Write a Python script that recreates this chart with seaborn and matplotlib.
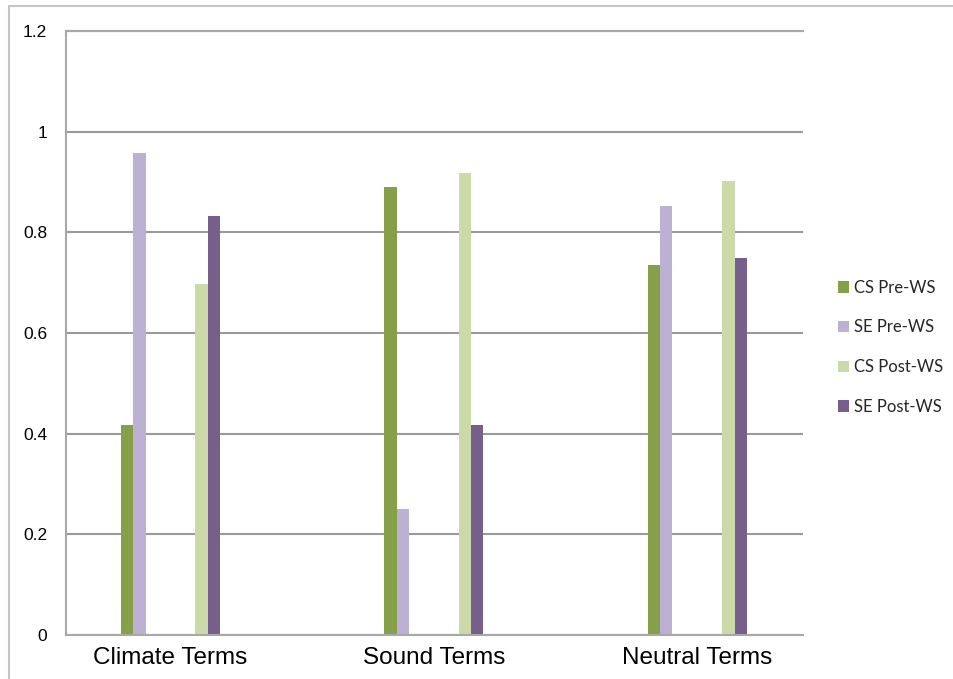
import matplotlib
matplotlib.use("Agg")
import matplotlib.pyplot as plt
from matplotlib.patches import Patch
from matplotlib.lines import Line2D
import pandas as pd
import seaborn as sns

# Category and series data
categories = ["Climate Terms", "Sound Terms", "Neutral Terms"]
series = ["CS Pre-WS", "SE Pre-WS", "CS Post-WS", "SE Post-WS"]
cs_pre = [0.417, 0.89, 0.736]
se_pre = [0.958, 0.25, 0.853]
cs_post = [0.697, 0.917, 0.902]
se_post = [0.833, 0.417, 0.75]
y_ticks = [0, 0.2, 0.4, 0.6, 0.8, 1, 1.2]
y_tick_labels = ["0", "0.2", "0.4", "0.6", "0.8", "1", "1.2"]

colors = {
    "CS Pre-WS": "#86A04A",
    "SE Pre-WS": "#BCB0D3",
    "CS Post-WS": "#CCD9A8",
    "SE Post-WS": "#765F8B",
}

# Long-form table for seaborn
rows = []
for name, vals in zip(series, [cs_pre, se_pre, cs_post, se_post]):
    for cat, v in zip(categories, vals):
        rows.append({"category": cat, "series": name, "value": v})
df = pd.DataFrame(rows)

# Empty slots between the pre and post pairs within each cluster
spacers = ["_s1", "_s2", "_s3", "_s4"]
hue_order = series[:2] + spacers + series[2:]
palette = dict(colors)
palette.update({s: "white" for s in spacers})

sns.set_theme(style="white")
plt.rcParams["font.family"] = ["Liberation Sans", "DejaVu Sans"]

fig = plt.figure(figsize=(9.54, 6.79), dpi=100)
ax = fig.add_axes([66 / 954, 1 - 635 / 679, (802.7 - 66) / 954, (635 - 31) / 679])

sns.barplot(
    data=df, x="category", y="value", hue="series",
    order=categories, hue_order=hue_order, palette=palette,
    width=0.377, dodge=True, saturation=1, legend=False,
    errorbar=None, ax=ax, linewidth=0,
)

ax.set_xlim(-0.396, 2.4)
ax.set_ylim(0, 1.2)
ax.set_yticks(y_ticks)
ax.set_yticklabels(y_tick_labels)
ax.yaxis.grid(True, color="#9a9a9a", linewidth=1.5)
ax.set_axisbelow(True)
ax.set_xlabel("")
ax.set_ylabel("")

for side in ["left", "top", "bottom"]:
    ax.spines[side].set_visible(True)
    ax.spines[side].set_color("#a8a8a8")
    ax.spines[side].set_linewidth(1.5)
ax.spines["right"].set_visible(False)

ax.tick_params(axis="y", length=0, pad=13.5, labelsize=12.5, colors="black")
ax.tick_params(axis="x", length=0, pad=9, labelsize=17.5, colors="black")

# Legend with square swatches
handles = [Patch(facecolor=colors[s], edgecolor="none") for s in series]
fig.legend(
    handles, series, loc="center left",
    bbox_to_anchor=(838 / 954, 1 - 347.3 / 679), bbox_transform=fig.transFigure,
    frameon=False, borderpad=0, borderaxespad=0,
    handlelength=0.66, handleheight=0.66, handletextpad=0.3,
    labelspacing=1.42, prop={"family": "Lato", "size": 12},
)

# Light frame along the left and top of the image
fig.add_artist(Line2D([9 / 954, 9 / 954], [0, 1 - 6 / 679], transform=fig.transFigure,
                      color="#c4c4c4", linewidth=1.5))
fig.add_artist(Line2D([9 / 954, 1], [1 - 6 / 679, 1 - 6 / 679], transform=fig.transFigure,
                      color="#c4c4c4", linewidth=1.5))

fig.savefig("out.png", dpi=100)
